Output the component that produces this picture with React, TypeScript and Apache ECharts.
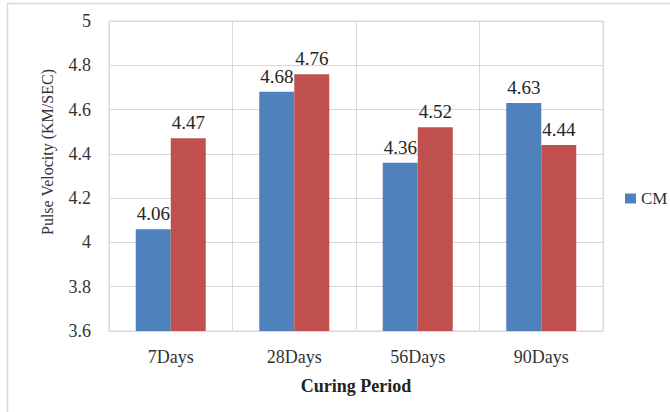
import React, { useEffect, useRef } from "react";
import * as echarts from "echarts";

// Ultrasonic pulse velocity by curing age
const periods = ["7Days", "28Days", "56Days", "90Days"];
const cmValues = [4.06, 4.68, 4.36, 4.63];
const mixValues = [4.47, 4.76, 4.52, 4.44];
const yTicks = { min: 3.6, max: 5, step: 0.2 };
const yAxisTitle = "Pulse Velocity (KM/SEC)";

const FONT = "'Liberation Serif', 'Times New Roman', serif";
const GRID_COLOR = "#d9d9d9";

export default function App() {
  const ref = useRef<HTMLDivElement>(null);

  useEffect(() => {
    if (!ref.current) return;
    const chart = echarts.init(ref.current, undefined, { renderer: "svg" });
    const valueLabel = {
      show: true,
      position: "top" as const,
      distance: 6,
      fontFamily: FONT,
      fontSize: 19,
      color: "#262626",
      formatter: (p: any) => Number(p.value).toFixed(2),
    };
    chart.setOption({
      animation: false,
      backgroundColor: "#ffffff",
      textStyle: { fontFamily: FONT },
      graphic: [
        {
          type: "rect",
          shape: { x: 7.5, y: 3.5, width: 720, height: 460 },
          style: { fill: "none", stroke: GRID_COLOR, lineWidth: 1.5 },
          silent: true,
        },
        {
          // vertical value-axis title, set a little above the plot's centre
          type: "text",
          x: 47,
          y: 152,
          rotation: Math.PI / 2,
          style: {
            text: yAxisTitle,
            fontFamily: FONT,
            fontSize: 16,
            fill: "#333",
            align: "center",
            verticalAlign: "middle",
          },
          silent: true,
        },
      ],
      legend: {
        data: ["CM"],
        orient: "vertical",
        left: 625,
        top: 190,
        padding: 0,
        itemWidth: 11,
        itemHeight: 10,
        itemGap: 8,
        icon: "rect",
        textStyle: { fontFamily: FONT, fontSize: 17, color: "#333" },
      },
      grid: {
        left: 109,
        top: 21,
        width: 494,
        height: 310,
        show: true,
        borderColor: GRID_COLOR,
        borderWidth: 1,
      },
      xAxis: {
        type: "category",
        data: periods,
        name: "Curing Period",
        nameLocation: "middle",
        nameGap: 46,
        nameTextStyle: { fontFamily: FONT, fontSize: 18, fontWeight: "bold", color: "#222" },
        axisLine: { show: true, lineStyle: { color: GRID_COLOR } },
        axisTick: { show: false },
        splitLine: { show: true, lineStyle: { color: GRID_COLOR } },
        axisLabel: { fontFamily: FONT, fontSize: 18, color: "#333", margin: 17 },
      },
      yAxis: {
        type: "value",
        min: yTicks.min,
        max: yTicks.max,
        interval: yTicks.step,
        axisLine: { show: false },
        axisTick: { show: false },
        splitLine: { lineStyle: { color: GRID_COLOR } },
        axisLabel: {
          fontFamily: FONT,
          fontSize: 18,
          color: "#333",
          margin: 18,
          formatter: (v: number) => String(Number(v.toFixed(1))),
        },
      },
      series: [
        {
          name: "CM",
          type: "bar",
          data: cmValues,
          barWidth: 35,
          barGap: "0%",
          itemStyle: { color: "#4f81bd" },
          label: valueLabel,
        },
        {
          name: "Mix",
          type: "bar",
          data: mixValues,
          barWidth: 35,
          barGap: "0%",
          itemStyle: { color: "#c0504d" },
          label: valueLabel,
        },
      ],
    });
    return () => chart.dispose();
  }, []);

  return (
    <div
      ref={ref}
      style={{ position: "fixed", left: 0, top: 0, width: 670, height: 412 }}
    />
  );
}
